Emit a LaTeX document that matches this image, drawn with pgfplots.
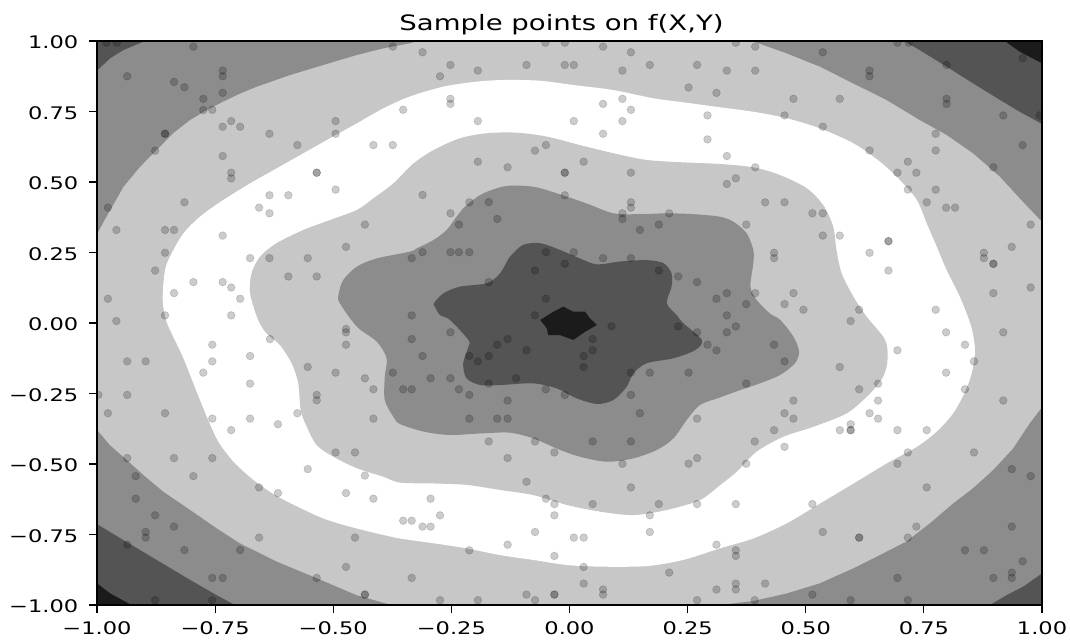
\documentclass[border=0pt]{standalone}
\usepackage{fontspec}
\usepackage{pgfplots}
\pgfplotsset{compat=1.18}
\setmainfont[FakeStretch=1.3]{DejaVu Sans}
\definecolor{lv0}{gray}{0.106}
\definecolor{lv1}{gray}{0.33}
\definecolor{lv2}{gray}{0.55}
\definecolor{lv3}{gray}{0.78}
\begin{document}
\begin{tikzpicture}[x=0.75pt,y=0.75pt]
\path[use as bounding box] (-97,-35) rectangle (973,605);
\begin{axis}[
  at={(0,0)},anchor=south west,
  scale only axis,width=708.75pt,height=423pt,
  xmin=-1,xmax=1,ymin=-1,ymax=1,
  axis on top,clip marker paths=true,
  axis line style={line width=0.8pt},
  tick style={black,line width=0.8pt},
  tick align=outside,major tick length=6pt,
  xtick pos=bottom,ytick pos=left,
  xtick={-1,-0.75,-0.5,-0.25,0,0.25,0.5,0.75,1},
  ytick={-1,-0.75,-0.5,-0.25,0,0.25,0.5,0.75,1},
  xticklabels={−1.00,−0.75,−0.50,−0.25,0.00,0.25,0.50,0.75,1.00},
  yticklabels={−1.00,−0.75,−0.50,−0.25,0.00,0.25,0.50,0.75,1.00},
  tick label style={font=\fontsize{13pt}{15pt}\selectfont},
  xticklabel style={yshift=-3pt},
  yticklabel style={xshift=-4.5pt,yshift=-1pt},
  title={Sample points on f(X,Y)},
  title style={font=\fontsize{15.9pt}{19pt}\selectfont,yshift=-5pt,xshift=-6pt},
]
% background level
\addplot[fill=lv3,draw=none,forget plot] coordinates {(-1,-1)(1,-1)(1,1)(-1,1)};
% corners, level 2
\addplot[fill=lv2,draw=none,forget plot] coordinates {(-1,.316)(-.980,.377)(-.944,.483)(-.909,.554)(-.874,.613)(-.839,.673)(-.803,.720)(-.768,.755)(-.733,.785)(-.697,.814)(-.662,.838)(-.592,.879)(-.521,.915)(-.451,.950)(-.394,.974)(-.338,.992)(-.32,1)(-1,1)};
\addplot[fill=lv2,draw=none,forget plot] coordinates {(.386,1)(.460,.956)(.530,.909)(.600,.850)(.671,.791)(.741,.720)(.798,.667)(.854,.602)(.911,.519)(.953,.442)(1,.359)(1,1)};
\addplot[fill=lv2,draw=none,forget plot] coordinates {(-1,-.379)(-.973,-.433)(-.937,-.486)(-.902,-.539)(-.860,-.598)(-.803,-.663)(-.747,-.728)(-.698,-.781)(-.620,-.846)(-.535,-.905)(-.451,-.965)(-.377,-1)(-1,-1)};
\addplot[fill=lv2,draw=none,forget plot] coordinates {(1,-.299)(.974,-.356)(.939,-.445)(.897,-.521)(.854,-.586)(.812,-.640)(.763,-.710)(.713,-.775)(.657,-.823)(.601,-.870)(.530,-.923)(.460,-.959)(.389,-.986)(.3185,-1)(1,-1)};
% corners, level 1
\addplot[fill=lv1,draw=none,forget plot] coordinates {(-1,.895)(-.972,.939)(-.944,.968)(-.898,1)(-1,1)};
\addplot[fill=lv1,draw=none,forget plot] coordinates {(.708,1)(.741,.968)(.798,.909)(.854,.850)(.911,.791)(.953,.749)(1,.706)(1,1)};
\addplot[fill=lv1,draw=none,forget plot] coordinates {(-1,-.713)(-.944,-.770)(-.874,-.840)(-.803,-.911)(-.747,-.965)(-.708,-1)(-1,-1)};
\addplot[fill=lv1,draw=none,forget plot] coordinates {(.890,-1)(.925,-.965)(.960,-.935)(1,-.888)(1,-1)};
% corners, level 0
\addplot[fill=lv0,draw=none,forget plot] coordinates {(.921,1)(.953,.962)(1,.921)(1,1)};
\addplot[fill=lv0,draw=none,forget plot] coordinates {(-1,-.923)(-.972,-.959)(-.927,-1)(-1,-1)};
% white ring
\addplot[fill=white,draw=none,smooth cycle,tension=0.5,forget plot] coordinates {(-.861,.082)(-.856,.188)(-.842,.247)(-.817,.318)(-.782,.377)(-.733,.436)(-.676,.495)(-.620,.548)(-.563,.602)(-.507,.655)(-.450,.708)(-.394,.761)(-.338,.803)(-.267,.838)(-.196,.856)(-.133,.862)(-.062,.859)(.008,.844)(.093,.826)(.177,.797)(.248,.781)(.318,.765)(.389,.749)(.460,.726)(.530,.690)(.601,.637)(.657,.572)(.699,.507)(.735,.436)(.756,.353)(.777,.271)(.798,.188)(.826,.093)(.848,-.001)(.856,-.060)(.858,-.108)(.851,-.179)(.837,-.244)(.812,-.320)(.777,-.385)(.735,-.439)(.671,-.498)(.601,-.569)(.530,-.640)(.460,-.710)(.389,-.764)(.3185,-.799)(.241,-.840)(.163,-.862)(.065,-.864)(-.006,-.858)(-.077,-.840)(-.147,-.823)(-.218,-.799)(-.288,-.781)(-.359,-.764)(-.408,-.746)(-.465,-.722)(-.521,-.693)(-.577,-.650)(-.627,-.606)(-.672,-.552)(-.712,-.490)(-.743,-.421)(-.763,-.350)(-.789,-.244)(-.817,-.125)(-.842,-.037)(-.854,.011)};
% inner light level
\addplot[fill=lv3,draw=none,smooth cycle,tension=0.5,forget plot] coordinates {(-.676,.105)(-.673,.176)(-.655,.235)(-.620,.283)(-.563,.330)(-.507,.365)(-.450,.401)(-.415,.442)(-.373,.495)(-.330,.566)(-.288,.613)(-.232,.655)(-.175,.673)(-.112,.675)(-.048,.661)(.022,.631)(.093,.602)(.164,.578)(.248,.569)(.318,.564)(.389,.552)(.445,.525)(.502,.478)(.537,.418)(.558,.342)(.565,.259)(.576,.176)(.601,.093)(.629,.022)(.668,-.060)(.673,-.131)(.664,-.190)(.636,-.250)(.587,-.320)(.516,-.368)(.453,-.403)(.396,-.456)(.354,-.527)(.3185,-.575)(.276,-.628)(.206,-.663)(.135,-.681)(.065,-.669)(-.006,-.645)(-.077,-.610)(-.147,-.592)(-.218,-.574)(-.288,-.569)(-.359,-.566)(-.394,-.545)(-.450,-.515)(-.500,-.474)(-.535,-.433)(-.556,-.368)(-.569,-.309)(-.574,-.214)(-.588,-.143)(-.613,-.078)(-.641,-.037)(-.659,.011)};
% mid level
\addplot[fill=lv2,draw=none,smooth cycle,tension=0.5,forget plot] coordinates {(-.489,.099)(-.479,.152)(-.450,.200)(-.408,.229)(-.338,.253)(-.323,.265)(-.288,.294)(-.260,.330)(-.239,.377)(-.218,.418)(-.182,.460)(-.133,.486)(-.076,.483)(-.027,.460)(.036,.424)(.093,.389)(.149,.386)(.206,.389)(.262,.386)(.318,.377)(.347,.359)(.375,.318)(.389,.259)(.389,.212)(.383,.129)(.396,.082)(.424,.034)(.446,.011)(.474,-.049)(.486,-.102)(.477,-.143)(.446,-.184)(.403,-.214)(.361,-.238)(.3185,-.264)(.276,-.291)(.248,-.344)(.220,-.409)(.185,-.450)(.135,-.480)(.079,-.492)(.022,-.474)(-.020,-.450)(-.077,-.409)(-.126,-.389)(-.182,-.391)(-.253,-.397)(-.309,-.385)(-.359,-.358)(-.373,-.332)(-.391,-.273)(-.391,-.190)(-.387,-.125)(-.408,-.066)(-.450,-.013)(-.486,.070)};
% dark level
\addplot[fill=lv1,draw=none,smooth cycle,tension=0.5,forget plot] coordinates {(-.287,.070)(-.267,.105)(-.232,.129)(-.175,.141)(-.147,.176)(-.126,.235)(-.098,.277)(-.062,.283)(-.020,.259)(.022,.229)(.058,.208)(.107,.218)(.163,.223)(.199,.212)(.216,.176)(.216,.129)(.206,.070)(.227,.028)(.241,-.001)(.280,-.060)(.266,-.096)(.220,-.125)(.163,-.143)(.135,-.179)(.121,-.226)(.093,-.273)(.058,-.287)(.015,-.267)(-.027,-.232)(-.077,-.214)(-.147,-.220)(-.189,-.220)(-.218,-.196)(-.225,-.143)(-.214,-.084)(-.214,-.060)(-.253,.011)(-.274,.028)(-.285,.058)};
% centre
\addplot[fill=lv0,draw=none,forget plot] coordinates {(-.062,.011)(-.034,.040)(-.013,.058)(.008,.040)(.033,.040)(.043,.017)(.058,-.007)(.033,-.031)(.008,-.060)(-.020,-.043)(-.045,-.043)(-.048,-.019)};
% sample points
\addplot[only marks,mark=*,mark size=2.9pt,mark options={fill=black,draw=black,fill opacity=0.2,draw opacity=0.15,line width=0.5pt}] table[row sep=\\] {
x y\\
-.980 .994\\ -.958 .994\\ -.796 .980\\ -.374 .980\\ -.936 .875\\ -.734 .895\\ -.734 .875\\ -.837 .855\\ -.815 .836\\ -.734 .816\\
-.775 .795\\ -.775 .755\\ -.756 .756\\ -.716 .716\\ -.734 .696\\ -.697 .696\\ -.635 .671\\ -.495 .716\\ -.495 .671\\ -.352 .756\\
-.415 .631\\ -.374 .631\\ -.576 .631\\ -.856 .671\\ -.856 .671\\ -.877 .611\\ -.734 .592\\ -.716 .533\\ -.716 .513\\ -.535 .533\\ -.535 .533\\
-.495 .473\\ -.635 .453\\ -.595 .453\\ -.815 .428\\ -.657 .409\\ -.635 .389\\ -.977 .409\\ -.959 .330\\ -.856 .330\\ -.837 .330\\
-.734 .310\\ -.433 .349\\ -.473 .270\\ -.856 .249\\ -.676 .230\\ -.635 .230\\ -.554 .230\\ -.877 .186\\ -.595 .165\\ -.535 .165\\
-.796 .145\\ -.734 .145\\ -.716 .126\\ -.837 .106\\ -.697 .086\\ -.977 .086\\ -.856 .027\\ -.716 .027\\ -.959 .007\\ -.473 -.021\\
-.051 .994\\ -.010 .994\\ -.311 .960\\ .071 .980\\ .130 .960\\ -.252 .915\\ -.194 .895\\ -.274 .875\\ -.091 .915\\ -.010 .915\\
.009 .915\\ .112 .895\\ .170 .915\\ .270 .915\\ .252 .835\\ .311 .816\\ -.252 .795\\ -.252 .777\\ -.194 .716\\ .071 .777\\
.112 .795\\ .130 .756\\ .009 .716\\ .112 .716\\ .292 .736\\ .071 .671\\ .292 .651\\ -.050 .631\\ -.073 .611\\ -.194 .572\\
-.131 .552\\ .030 .572\\ -.010 .533\\ -.010 .533\\ .130 .533\\ -.311 .454\\ -.010 .453\\ -.212 .428\\ -.171 .429\\ .130 .428\\ .130 .409\\
-.252 .389\\ .112 .389\\ .112 .369\\ .211 .389\\ -.153 .369\\ -.234 .349\\ .189 .349\\ .149 .330\\ -.334 .230\\ -.311 .251\\
-.252 .251\\ -.234 .251\\ -.212 .251\\ -.050 .251\\ .009 .251\\ .071 .230\\ .130 .230\\ -.010 .210\\ -.073 .186\\ .189 .186\\
.230 .165\\ .270 .145\\ -.171 .145\\ .311 .086\\ -.050 .086\\ -.334 .027\\ -.073 .027\\ .089 -.012\\ .230 -.012\\ -.252 -.033\\
.352 .994\\ .393 .980\\ .333 .895\\ .393 .895\\ .536 .960\\ .635 .895\\ .635 .875\\ .694 .994\\ .718 .994\\ .798 .915\\
.959 .939\\ .798 .795\\ .798 .777\\ .474 .795\\ .572 .795\\ .455 .736\\ .536 .696\\ .918 .736\\ .995 .736\\ .775 .671\\
.775 .612\\ .635 .612\\ .959 .631\\ .897 .552\\ .716 .572\\ .694 .533\\ .734 .533\\ .716 .473\\ .775 .473\\ .756 .428\\
.797 .409\\ .816 .409\\ .333 .592\\ .393 .552\\ .352 .513\\ .333 .493\\ .414 .428\\ .455 .428\\ .514 .389\\ .536 .389\\
.374 .349\\ .976 .349\\ .536 .310\\ .572 .310\\ .675 .290\\ .675 .290\\ .936 .270\\ .877 .249\\ .877 .230\\ .897 .210\\ .897 .210\\
.635 .249\\ .433 .249\\ .433 .230\\ .675 .186\\ .976 .126\\ .897 .106\\ .333 .106\\ .393 .106\\ .474 .106\\ .374 .067\\
.455 .067\\ .495 .047\\ .613 .047\\ .775 .047\\ .333 .027\\ .352 -.012\\ .595 .007\\ .797 -.033\\ .918 -.033\\
-.473 -.033\\ -.473 -.077\\ -.756 -.077\\ -.634 -.057\\ -.676 -.117\\ -.756 -.136\\ -.936 -.136\\ -.897 -.136\\ -.775 -.176\\ -.554 -.156\\
-.495 -.176\\ -.433 -.196\\ -.415 -.235\\ -.374 -.176\\ -.352 -.235\\ -.334 -.235\\ -.676 -.215\\ -.535 -.255\\ -.535 -.274\\ -.997 -.255\\
-.936 -.255\\ -.977 -.320\\ -.856 -.320\\ -.756 -.339\\ -.676 -.339\\ -.617 -.359\\ -.576 -.320\\ -.716 -.380\\ -.415 -.339\\ -.495 -.459\\
-.454 -.459\\ -.554 -.518\\ -.433 -.541\\ -.473 -.603\\ -.415 -.623\\ -.617 -.603\\ -.657 -.583\\ -.936 -.479\\ -.837 -.479\\ -.756 -.479\\
-.918 -.543\\ -.796 -.543\\ -.918 -.623\\ -.877 -.682\\ -.837 -.722\\ -.897 -.741\\ -.897 -.761\\ -.936 -.786\\ -.815 -.805\\ -.697 -.805\\
-.657 -.761\\ -.454 -.761\\ -.473 -.865\\ -.756 -.904\\ -.734 -.904\\ -.535 -.904\\ -.877 -.983\\ -.756 -.983\\ -.433 -.963\\ -.433 -.963\\ -.352 -.701\\ -.334 -.701\\
-.334 -.057\\ .270 -.033\\ -.131 -.057\\ -.153 -.077\\ -.091 -.097\\ -.212 -.117\\ -.171 -.117\\ -.194 -.136\\ -.311 -.117\\ .049 -.057\\
.049 -.097\\ .030 -.117\\ .030 -.156\\ .292 -.077\\ .311 -.097\\ .130 -.176\\ .170 -.176\\ .252 -.176\\ -.294 -.196\\ -.252 -.196\\
-.113 -.196\\ -.171 -.215\\ -.234 -.235\\ -.050 -.235\\ -.212 -.255\\ -.010 -.255\\ .130 -.255\\ -.131 -.275\\ .149 -.320\\ -.212 -.339\\
-.153 -.339\\ -.131 -.339\\ .270 -.339\\ -.171 -.420\\ -.073 -.420\\ .049 -.420\\ .130 -.420\\ -.032 -.459\\ -.131 -.479\\ .270 -.479\\
.252 -.499\\ .112 -.499\\ -.091 -.563\\ .130 -.583\\ -.294 -.623\\ -.050 -.623\\ -.032 -.642\\ .049 -.642\\ .189 -.642\\ .270 -.642\\
-.274 -.682\\ -.032 -.682\\ .170 -.682\\ -.311 -.722\\ -.294 -.722\\ -.073 -.741\\ .170 -.741\\ .009 -.761\\ .030 -.761\\ -.131 -.786\\
-.212 -.806\\ .311 -.786\\ -.032 -.826\\ .030 -.865\\ .211 -.885\\ -.334 -.904\\ .030 -.924\\ .071 -.945\\ .071 -.963\\ .311 -.945\\
-.091 -.963\\ -.032 -.963\\ -.032 -.963\\ -.274 -.983\\ -.194 -.983\\ -.073 -.983\\ .270 -.983\\
.333 -.033\\ .433 -.077\\ .455 -.136\\ .572 -.156\\ .374 -.215\\ .613 -.235\\ .653 -.215\\ .694 -.097\\ .837 -.077\\ .856 -.136\\
.797 -.176\\ .837 -.235\\ .918 -.275\\ .653 -.275\\ .474 -.275\\ .455 -.320\\ .474 -.339\\ .635 -.320\\ .653 -.339\\ .433 -.380\\
.572 -.380\\ .595 -.359\\ .595 -.380\\ .595 -.380\\ .694 -.380\\ .756 -.380\\ .392 -.420\\ .455 -.439\\ .716 -.459\\ .856 -.459\\ .694 -.499\\
.374 -.499\\ .936 -.518\\ .976 -.543\\ .756 -.583\\ .352 -.642\\ .514 -.642\\ .734 -.722\\ .536 -.741\\ .613 -.761\\ .613 -.761\\ .716 -.761\\
.936 -.722\\ .352 -.806\\ .352 -.826\\ .837 -.806\\ .877 -.806\\ .959 -.845\\ .694 -.904\\ .897 -.904\\ .936 -.885\\ .936 -.904\\
.352 -.924\\ .352 -.945\\ .414 -.924\\ .514 -.963\\ .392 -.983\\ .595 -.983\\ .716 -.983\\
};
\end{axis}
\end{tikzpicture}
\end{document}
